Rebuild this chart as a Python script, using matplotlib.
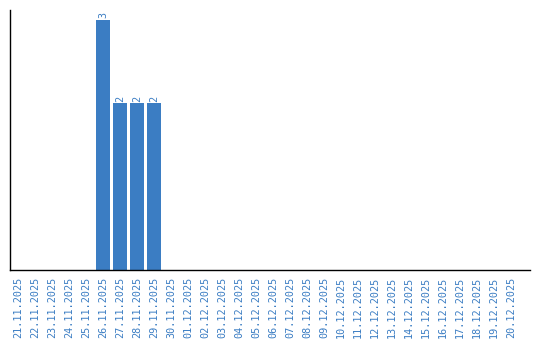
import matplotlib
matplotlib.use("Agg")
import matplotlib.pyplot as plt
from datetime import date, timedelta

start = date(2025, 11, 21)
dates = [(start + timedelta(days=i)).strftime("%d.%m.%Y") for i in range(30)]
counts = [0] * 30
counts[5] = 3
counts[6] = 2
counts[7] = 2
counts[8] = 2

blue = "#3b7dc3"

fig = plt.figure(figsize=(5.4, 3.4), dpi=100)
ax = fig.add_axes([10 / 540, 70 / 340, 520 / 540, 260 / 340])

x = list(range(len(dates)))
ax.bar(x, counts, width=0.82, color=blue)
for xi, c in zip(x, counts):
    if c > 0:
        ax.text(xi, c + 0.02, str(c), rotation=90, ha="center", va="bottom",
                color=blue, fontsize=7.3, family="DejaVu Sans Mono")

ax.set_xlim(-0.47, 30.12)
ax.set_ylim(0, 3.12)
ax.set_xticks(x)
ax.set_xticklabels(dates, rotation=90, color=blue, fontsize=7.3, family="DejaVu Sans Mono")
ax.set_yticks([])
ax.tick_params(axis="x", length=0, pad=5)
ax.spines["top"].set_visible(False)
ax.spines["right"].set_visible(False)
ax.spines["left"].set_linewidth(1.0)
ax.spines["bottom"].set_linewidth(1.0)

fig.savefig("out.png", dpi=100)
